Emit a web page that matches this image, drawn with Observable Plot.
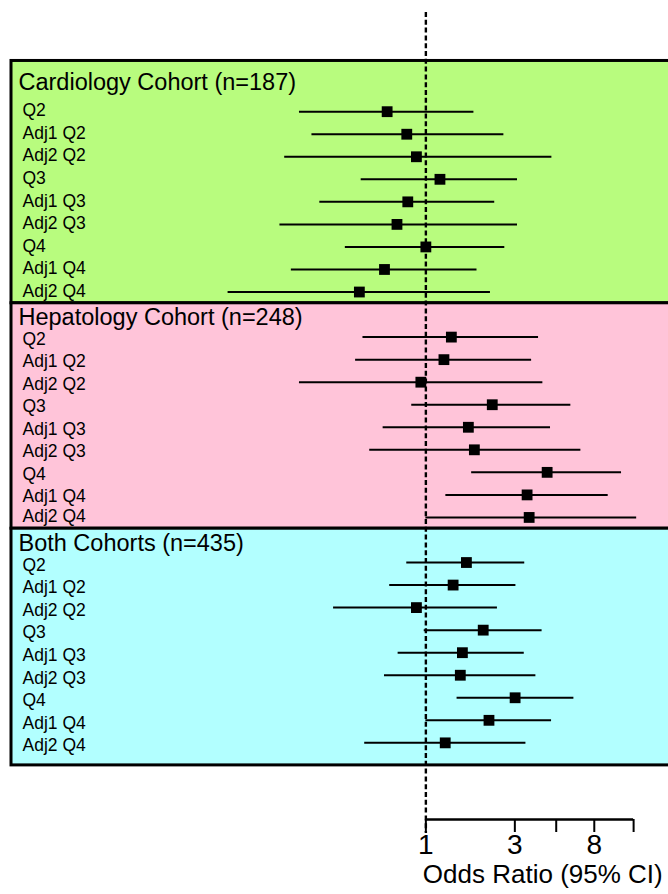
<!DOCTYPE html>
<html>
<head>
<meta charset="utf-8">
<script src="https://cdn.jsdelivr.net/npm/d3@7"></script>
<script src="https://cdn.jsdelivr.net/npm/@observablehq/plot@0.6"></script>
<style>
  html, body { margin: 0; padding: 0; background: #ffffff; }
  #chart svg { display: block; }
</style>
</head>
<body>
<div id="chart"></div>
<script>
// ---------------- data ----------------
const cohortTitles = ["Cardiology Cohort (n=187)", "Hepatology Cohort (n=248)", "Both Cohorts (n=435)"];
const rowLabels = ["Q2", "Adj1 Q2", "Adj2 Q2", "Q3", "Adj1 Q3", "Adj2 Q3", "Q4", "Adj1 Q4", "Adj2 Q4"];

const cardioOR = [0.62, 0.79, 0.89, 1.19, 0.80, 0.70, 1.00, 0.60, 0.44];
const cardioLo = [0.21, 0.245, 0.175, 0.45, 0.27, 0.165, 0.37, 0.19, 0.087];
const cardioHi = [1.81, 2.62, 4.74, 3.10, 2.34, 3.10, 2.65, 1.88, 2.22];

const hepatoOR = [1.37, 1.25, 0.94, 2.27, 1.69, 1.82, 4.47, 3.49, 3.58];
const hepatoLo = [0.46, 0.42, 0.21, 0.84, 0.59, 0.50, 1.76, 1.28, 1.00];
const hepatoHi = [4.02, 3.69, 4.24, 5.99, 4.66, 6.78, 11.2, 9.5, 13.5];

const bothOR = [1.65, 1.40, 0.89, 2.03, 1.57, 1.53, 3.01, 2.18, 1.27];
const bothLo = [0.79, 0.64, 0.32, 0.98, 0.71, 0.60, 1.47, 1.00, 0.47];
const bothHi = [3.39, 3.04, 2.42, 4.20, 3.37, 3.89, 6.22, 4.72, 3.44];

const xTicks = [1, 3, 5, 8, 13];
const xLabeledTicks = [1, 3, 8];
const axisTitle = "Odds Ratio (95% CI)";
const refValue = 1;

// ---------------- styles / layout ----------------
const panelFills = ["#b8fc7e", "#ffc4d9", "#b2ffff"];
const SLOTS = 10; // title slot + 9 rows per panel
const estimates = [cardioOR, hepatoOR, bothOR];
const lows = [cardioLo, hepatoLo, bothLo];
const highs = [cardioHi, hepatoHi, bothHi];

const rows = [];
cohortTitles.forEach((t, p) => {
  rowLabels.forEach((lab, j) => {
    const g = p * SLOTS + j + 1;
    const off = p === 0 ? -0.04 : p === 1 ? (j === rowLabels.length - 1 ? -0.05 : 0.08) : 0.12;
    rows.push({p, label: lab, g, labelY: g + off,
               or: estimates[p][j], lo: lows[p][j], hi: highs[p][j]});
  });
});
const last = cohortTitles.length - 1;
const panels = cohortTitles.map((title, p) => {
  const top = p * SLOTS - 0.5 - (p === 0 ? 0.75 : 0);
  const bottom = p * SLOTS + 9.5 + (p === last ? 0.5 : 0);
  return {p, title, top, bottom, titleY: top + (p === 0 ? 0.95 : 0.65), fill: panelFills[p]};
});

const yDomain = [-3.4, 32.4];

const chart = Plot.plot({
  width: 668,
  height: 894,
  marginTop: 12,
  marginBottom: 75,
  marginLeft: 11,
  marginRight: 0,
  x: {type: "log", domain: [0.006, 20], axis: null},
  y: {domain: yDomain, reverse: true, axis: null},
  color: {type: "identity"},
  style: {
    fontFamily: "'Liberation Sans', Arial, sans-serif",
    fontSize: "18px",
    color: "black",
    background: "white",
    overflow: "hidden"
  },
  marks: [
    Plot.rect(panels, {y1: "top", y2: "bottom", fill: "fill", stroke: "black", strokeWidth: 3, insetRight: -8}),
    Plot.text(panels, {y: "titleY", text: "title", frameAnchor: "left", textAnchor: "start", dx: 7, fontSize: 23.5, fill: "black"}),
    Plot.text(rows, {y: "labelY", text: "label", frameAnchor: "left", textAnchor: "start", dx: 11, fontSize: 17.5, fill: "black"}),
    Plot.ruleY(rows, {y: "g", x1: "lo", x2: "hi", stroke: "black", strokeWidth: 2}),
    Plot.ruleX([refValue], {stroke: "black", strokeWidth: 2.4, strokeDasharray: "5,2.8", insetBottom: -14}),
    Plot.dot(rows, {x: "or", y: "g", symbol: "square", r: 6.1, fill: "black", stroke: null}),
    Plot.ruleY([yDomain[1]], {x1: () => xTicks[0], x2: () => xTicks[xTicks.length - 1], stroke: "black", strokeWidth: 2.5}),
    Plot.axisX({
      anchor: "bottom",
      ticks: xTicks,
      tickFormat: () => "",
      tickSize: 13,
      strokeWidth: 2,
      stroke: "black",
      label: null
    }),
    Plot.text(xLabeledTicks, {x: d => d, text: d => String(d), frameAnchor: "bottom", lineAnchor: "top", dy: 15, fontSize: 28, fill: "black"}),
    Plot.text([axisTitle], {x: () => refValue, text: d => d, frameAnchor: "bottom", textAnchor: "start", dx: -3, dy: 63, fontSize: 26, fill: "black"})
  ]
});
document.getElementById("chart").appendChild(chart);
</script>
</body>
</html>
